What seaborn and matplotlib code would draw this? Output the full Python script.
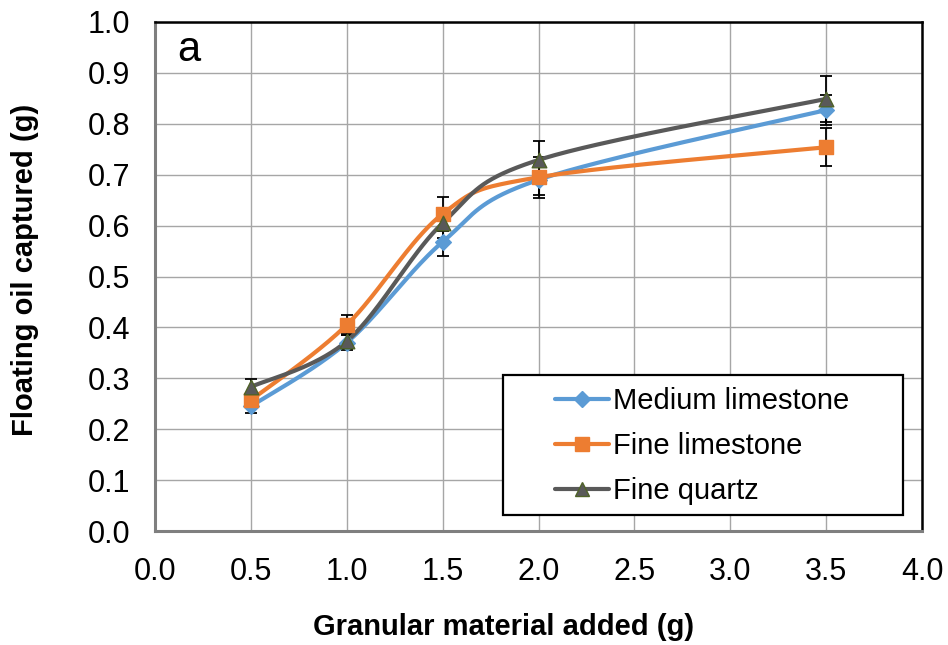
import numpy as np
import pandas as pd
import matplotlib
matplotlib.use("Agg")
import matplotlib.pyplot as plt
import seaborn as sns
from matplotlib.lines import Line2D
from matplotlib.patches import Rectangle

x_vals = [0.5, 1.0, 1.5, 2.0, 3.5]
medium_limestone = [0.245, 0.370, 0.568, 0.690, 0.827]
fine_limestone = [0.257, 0.405, 0.623, 0.695, 0.754]
fine_quartz = [0.283, 0.373, 0.605, 0.729, 0.849]
err_medium = [0.013, 0.015, 0.028, 0.030, 0.030]
err_fine_lime = [0.014, 0.019, 0.033, 0.040, 0.037]
err_quartz = [0.016, 0.016, 0.030, 0.037, 0.045]
series_names = ["Medium limestone", "Fine limestone", "Fine quartz"]
x_ticks = [0.0, 0.5, 1.0, 1.5, 2.0, 2.5, 3.0, 3.5, 4.0]
y_ticks = [0.0, 0.1, 0.2, 0.3, 0.4, 0.5, 0.6, 0.7, 0.8, 0.9, 1.0]

colors = ["#5B9BD5", "#ED7D31", "#595959"]
markers = ["D", "s", "^"]
msizes = [8, 10.5, 10.5]
medges = ["#5B9BD5", "#ED7D31", "#4F6228"]


def smooth(xs, ys, n=40):
    """Excel-like smoothed line (Bezier segments, tension 1/6)."""
    xs = np.asarray(xs, float)
    ys = np.asarray(ys, float)
    px, py = [], []
    m = len(xs)
    for i in range(m - 1):
        p0 = (xs[max(i - 1, 0)], ys[max(i - 1, 0)])
        p1 = (xs[i], ys[i])
        p2 = (xs[i + 1], ys[i + 1])
        p3 = (xs[min(i + 2, m - 1)], ys[min(i + 2, m - 1)])
        c1 = (p1[0] + (p2[0] - p0[0]) / 6, p1[1] + (p2[1] - p0[1]) / 6)
        c2 = (p2[0] - (p3[0] - p1[0]) / 6, p2[1] - (p3[1] - p1[1]) / 6)
        t = np.linspace(0, 1, n)
        bx = (1 - t) ** 3 * p1[0] + 3 * (1 - t) ** 2 * t * c1[0] + 3 * (1 - t) * t ** 2 * c2[0] + t ** 3 * p2[0]
        by = (1 - t) ** 3 * p1[1] + 3 * (1 - t) ** 2 * t * c1[1] + 3 * (1 - t) * t ** 2 * c2[1] + t ** 3 * p2[1]
        px.extend(bx)
        py.extend(by)
    return np.array(px), np.array(py)


sns.set_theme(style="white")
plt.rcParams["font.family"] = ["Liberation Sans", "DejaVu Sans"]

fig = plt.figure(figsize=(9.48, 6.45), dpi=100)
ax = fig.add_axes([0.1635, 0.1767, 0.8091, 0.7892])

all_y = [medium_limestone, fine_limestone, fine_quartz]
all_e = [err_medium, err_fine_lime, err_quartz]

for name, ys, es in zip(series_names, all_y, all_e):
    ax.errorbar(x_vals, ys, yerr=es, fmt="none", ecolor="black", elinewidth=1.3,
                capsize=4.5, capthick=1.3, zorder=2)

for name, ys, c in zip(series_names, all_y, colors):
    sx, sy = smooth(x_vals, ys)
    df = pd.DataFrame({"x": sx, "y": sy})
    sns.lineplot(data=df, x="x", y="y", ax=ax, color=c, linewidth=3.0, sort=False,
                 estimator=None, zorder=3)

for name, ys, c, mk, ms, me in zip(series_names, all_y, colors, markers, msizes, medges):
    df = pd.DataFrame({"x": x_vals, "y": ys})
    sns.scatterplot(data=df, x="x", y="y", ax=ax, color=c, marker=mk, s=ms ** 2,
                    edgecolor=me, linewidth=1.0, zorder=4)

ax.set_xlim(0, 4.0)
ax.set_ylim(0, 1.0)
ax.set_xticks(x_ticks)
ax.set_yticks(y_ticks)
ax.set_xticklabels([f"{v:.1f}" for v in x_ticks], fontsize=22)
ax.set_yticklabels([f"{v:.1f}" for v in y_ticks], fontsize=22)
ax.tick_params(axis="x", length=0, pad=19, colors="black")
ax.tick_params(axis="y", length=0, pad=18, colors="black")
ax.grid(True, color="#A6A6A6", linewidth=1.0)
ax.spines["top"].set_color("black")
ax.spines["right"].set_color("black")
ax.spines["left"].set_color("#7F7F7F")
ax.spines["bottom"].set_color("#7F7F7F")
ax.spines["top"].set_linewidth(1.8)
ax.spines["right"].set_linewidth(1.8)
ax.spines["left"].set_linewidth(2.2)
ax.spines["bottom"].set_linewidth(2.2)
ax.set_axisbelow(True)

ax.set_xlabel("Granular material added (g)", fontsize=21, fontweight="bold", va="center",
              color="black")
ax.xaxis.set_label_coords(0.454, -0.189)
ax.set_ylabel("Floating oil captured (g)", fontsize=21, fontweight="bold", va="center",
              color="black")
ax.yaxis.set_label_coords(-0.1695, 0.513)

ax.text(0.044, 0.945, "a", transform=ax.transAxes, fontsize=30, va="center", ha="center",
        color="black")

# legend frame
ax.add_patch(Rectangle((0.4537, 0.031), 0.975 - 0.4537, 0.306 - 0.031, transform=ax.transAxes,
                       facecolor="white", edgecolor="black", linewidth=1.6, zorder=9))
handles = [
    Line2D([0], [0], color=c, linewidth=3.0, marker=mk, markersize=ms,
           markerfacecolor=c, markeredgecolor=me)
    for c, mk, ms, me in zip(colors, markers, msizes, medges)
]
leg = ax.legend(handles, series_names, loc="upper left", bbox_to_anchor=(0.5215, 0.283),
                fontsize=21, frameon=False, handlelength=1.85, borderpad=0,
                labelspacing=0.58, handletextpad=0.15, borderaxespad=0)
leg.set_zorder(10)
for t in leg.get_texts():
    t.set_color("black")

fig.savefig("out.png", dpi=100)
